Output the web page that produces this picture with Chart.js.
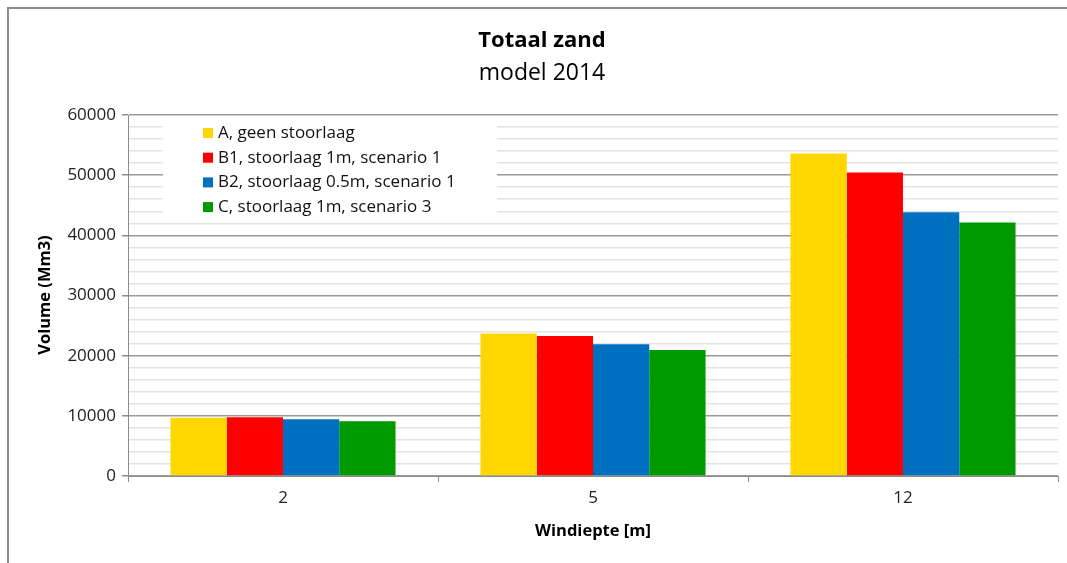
<!DOCTYPE html>
<html>
<head>
<meta charset="utf-8">
<script src="https://cdn.jsdelivr.net/npm/chart.js@4"></script>
<style>
  html, body { margin: 0; padding: 0; background: #fff; overflow: hidden; }
  #wrap { width: 1067px; height: 563px; }
</style>
</head>
<body>
<div id="wrap"><canvas id="grafiek" width="1067" height="563"></canvas></div>
<script>
// Gegevens
const windieptes = ['2', '5', '12'];
const reeksNamen = [
    'A, geen stoorlaag',
    'B1, stoorlaag 1m, scenario 1',
    'B2, stoorlaag 0.5m, scenario 1',
    'C, stoorlaag 1m, scenario 3'
];
const waardenA = [9700, 23700, 53600];
const waardenB1 = [9750, 23250, 50450];
const waardenB2 = [9420, 21880, 43850];
const waardenC = [9090, 20930, 42140];
const kleuren = ['#FFD700', '#FF0000', '#0070C0', '#009900'];
const yMax = 60000;

const lettertype = '"Open Sans", "Liberation Sans", sans-serif';

// Kader, titels en legenda
const extraTekening = {
    id: 'extraTekening',
    beforeDraw(chart) {
        const ctx = chart.ctx;
        ctx.save();
        ctx.fillStyle = '#fff';
        ctx.fillRect(0, 0, chart.width, chart.height);
        ctx.strokeStyle = '#8c8c8c';
        ctx.lineWidth = 2;
        ctx.strokeRect(8, 8, chart.width + 20, chart.height + 20);
        ctx.restore();
    },
    afterDraw(chart) {
        const ctx = chart.ctx;
        const ca = chart.chartArea;
        ctx.save();
        ctx.fillStyle = '#000';
        ctx.textAlign = 'center';
        ctx.textBaseline = 'middle';
        ctx.font = 'bold 22px ' + lettertype;
        ctx.fillText('Totaal zand', 542, 41);
        ctx.font = '23px ' + lettertype;
        ctx.fillText('model 2014', 542, 73);

        ctx.font = 'bold 16.5px ' + lettertype;
        ctx.fillText('Windiepte [m]', 593, 531);
        ctx.save();
        ctx.translate(45, 295);
        ctx.rotate(-Math.PI / 2);
        ctx.fillText('Volume (Mm3)', 0, 0);
        ctx.restore();

        // legenda
        ctx.fillStyle = '#fff';
        ctx.fillRect(163, 119, 334, 103);
        ctx.font = '17px ' + lettertype;
        ctx.textAlign = 'left';
        chart.data.datasets.forEach((ds, i) => {
            const y = 133 + i * 24.7;
            ctx.fillStyle = ds.backgroundColor;
            ctx.fillRect(203, y - 5, 10, 10);
            ctx.fillStyle = '#111';
            ctx.fillText(ds.label, 218, y);
        });
        ctx.restore();
    }
};

const reeksen = [waardenA, waardenB1, waardenB2, waardenC].map((waarden, i) => ({
    label: reeksNamen[i],
    data: waarden,
    backgroundColor: kleuren[i],
    borderWidth: 0,
    barPercentage: 1,
    categoryPercentage: 0.726
}));

new Chart(document.getElementById('grafiek').getContext('2d'), {
    type: 'bar',
    data: {
        labels: windieptes,
        datasets: reeksen
    },
    plugins: [extraTekening],
    options: {
        responsive: false,
        animation: false,
        devicePixelRatio: 1,
        layout: {
            padding: { top: 115, right: 9, left: 0, bottom: 0 }
        },
        plugins: {
            legend: { display: false },
            title: { display: false },
            tooltip: { enabled: false }
        },
        scales: {
            x: {
                afterFit(schaal) { schaal.height = 87; },
                grid: {
                    offset: true,
                    drawOnChartArea: false,
                    tickLength: 6,
                    tickColor: '#8c8c8c'
                },
                border: { color: '#8c8c8c', width: 1 },
                ticks: {
                    color: '#222',
                    padding: 6,
                    font: { size: 17, family: lettertype }
                }
            },
            y: {
                min: 0,
                max: yMax,
                afterFit(schaal) { schaal.width = 128; },
                ticks: {
                    stepSize: 2000,
                    autoSkip: false,
                    color: '#222',
                    padding: 6,
                    font: { size: 17, family: lettertype },
                    callback: (v) => (v % 10000 === 0 ? String(v) : '')
                },
                grid: {
                    tickLength: 6,
                    color: (c) => (c.tick && c.tick.value % 10000 === 0 ? '#9a9a9a' : '#e3e3e3'),
                    tickColor: (c) => (c.tick && c.tick.value % 10000 === 0 ? '#8c8c8c' : 'rgba(0,0,0,0)'),
                    lineWidth: 1.5
                },
                border: { color: '#8c8c8c', width: 1 }
            }
        }
    }
});
</script>
</body>
</html>
